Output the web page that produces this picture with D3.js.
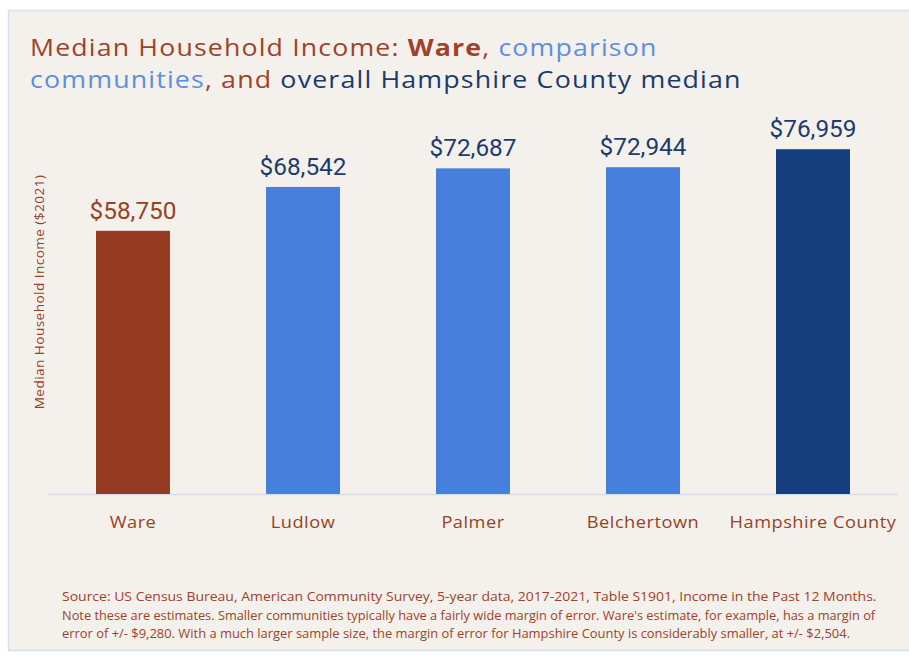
<!DOCTYPE html>
<html><head><meta charset="utf-8">
<script src="https://cdn.jsdelivr.net/npm/d3@7/dist/d3.min.js"></script>
<style>html,body{margin:0;padding:0;background:#fff;}svg{display:block;}</style>
</head><body>
<script>
const categories = ["Ware", "Ludlow", "Palmer", "Belchertown", "Hampshire County"];
const values = [58750, 68542, 72687, 72944, 76959];
const barColors = ["#943b21", "#467fdc", "#467fdc", "#467fdc", "#143d7b"];
const labelColors = ["#9a3f25", "#1d3c6e", "#1d3c6e", "#1d3c6e", "#1d3c6e"];
const yLabel = "Median Household Income ($2021)";
const titleLine1 = [
  {t: "Median Household Income: ", c: "#a0412a", w: 400},
  {t: "Ware", c: "#a0412a", w: 700},
  {t: ", ", c: "#a0412a", w: 400},
  {t: "comparison", c: "#5a8fe2", w: 400}
];
const titleLine2 = [
  {t: "communities", c: "#5a8fe2", w: 400},
  {t: ", and ", c: "#a0412a", w: 400},
  {t: "overall Hampshire County median", c: "#1b3a6c", w: 400}
];
const notes = [
  "Source: US Census Bureau, American Community Survey, 5-year data, 2017-2021, Table S1901, Income in the Past 12 Months.",
  "Note these are estimates. Smaller communities typically have a fairly wide margin of error. Ware's estimate, for example, has a margin of",
  "error of +/- $9,280. With a much larger sample size, the margin of error for Hampshire County is considerably smaller, at +/- $2,504."
];

const W = 909, H = 658;
const svg = d3.select("body").append("svg").attr("width", W).attr("height", H);

// panel
svg.append("rect").attr("x", 8.5).attr("y", 10.5).attr("width", 920).attr("height", 640)
  .attr("fill", "#f4f1ec").attr("stroke", "#d8deef").attr("stroke-width", 1.5);

// stretch text horizontally (half letter-spacing, half scale) to a target width
function widen(sel, target, x0, y0) {
  const w = sel.node().getComputedTextLength();
  const n = sel.text().length;
  const ls = (target - w) * 0.4 / n;
  sel.attr("letter-spacing", ls);
  const w2 = sel.node().getComputedTextLength();
  const s = target / w2;
  sel.attr("x", 0).attr("y", 0).attr("transform", `translate(${x0},${y0}) scale(${s},1)`);
}

// title
const titleFont = "'Open Sans', Lato, sans-serif";
function titleLine(parts, y, target) {
  const t = svg.append("text").attr("font-family", titleFont).attr("font-size", 24);
  parts.forEach(p => t.append("tspan").text(p.t).attr("fill", p.c).attr("font-weight", p.w));
  widen(t, target, 30, y);
  return t;
}
titleLine(titleLine1, 56, 628);
titleLine(titleLine2, 88, 712);

// scales
const x = d3.scaleBand().domain(categories).range([48, 898]).paddingInner(0.565).paddingOuter(0.2825);
const y = d3.scaleLinear().domain([0, 100000]).range([494, 46]);

// baseline
svg.append("line").attr("x1", 48).attr("x2", 898).attr("y1", 494.5).attr("y2", 494.5)
  .attr("stroke", "#d6dcec").attr("stroke-width", 1.5);

// bars
svg.selectAll("rect.bar").data(values).join("rect").attr("class", "bar")
  .attr("x", (d, i) => x(categories[i]))
  .attr("width", x.bandwidth())
  .attr("y", d => y(d))
  .attr("height", d => y(0) - y(d))
  .attr("fill", (d, i) => barColors[i]);

// value labels
const fmt = d3.format("$,");
const vals = svg.selectAll("text.val").data(values).join("text").attr("class", "val")
  .attr("x", (d, i) => x(categories[i]) + x.bandwidth() / 2)
  .attr("y", d => y(d) - 12)
  .attr("text-anchor", "middle")
  .attr("font-family", "Roboto, 'Open Sans', sans-serif")
  .attr("font-size", 22)
  .attr("fill", (d, i) => labelColors[i])
  .text(d => fmt(d));
{
  const w0 = vals.nodes()[0].getComputedTextLength();
  vals.attr("font-size", 22 * 87 / w0);
}

// x axis labels
const xa = svg.append("g").attr("transform", "translate(0,494)")
  .call(d3.axisBottom(x).tickSize(0).tickPadding(22));
xa.select(".domain").remove();
xa.selectAll("text").attr("font-family", titleFont).attr("font-size", 17)
  .attr("fill", "#9a3f25");
{
  const last = xa.selectAll("text").filter(d => d === "Hampshire County");
  const w = last.node().getComputedTextLength();
  const ls = (167 - w) * 0.4 / 16;
  xa.selectAll("text").attr("letter-spacing", ls);
  const w2 = last.node().getComputedTextLength();
  xa.selectAll("text").attr("transform", `scale(${167 / w2},1)`);
}

// y label
const yl = svg.append("text").attr("text-anchor", "middle").attr("font-family", titleFont)
  .attr("font-size", 12.5).attr("fill", "#9a3f25").text(yLabel);
{
  const w = yl.node().getComputedTextLength();
  yl.attr("letter-spacing", (235 - w) * 0.4 / yLabel.length);
  const w2 = yl.node().getComputedTextLength();
  yl.attr("transform", `translate(44,292) rotate(-90) scale(${235 / w2},1)`);
}

// notes (condensed via horizontal scaling)
const nTargets = [815, 814, 789];
notes.forEach((n, i) => {
  const t = svg.append("text").attr("font-family", "'Open Sans', sans-serif")
    .attr("font-size", 13.5).attr("fill", "#a0412a").text(n);
  const w = t.node().getComputedTextLength();
  t.attr("transform", `translate(62,${601 + i * 18.5}) scale(${nTargets[i] / w},1)`);
});
</script>
</body></html>
